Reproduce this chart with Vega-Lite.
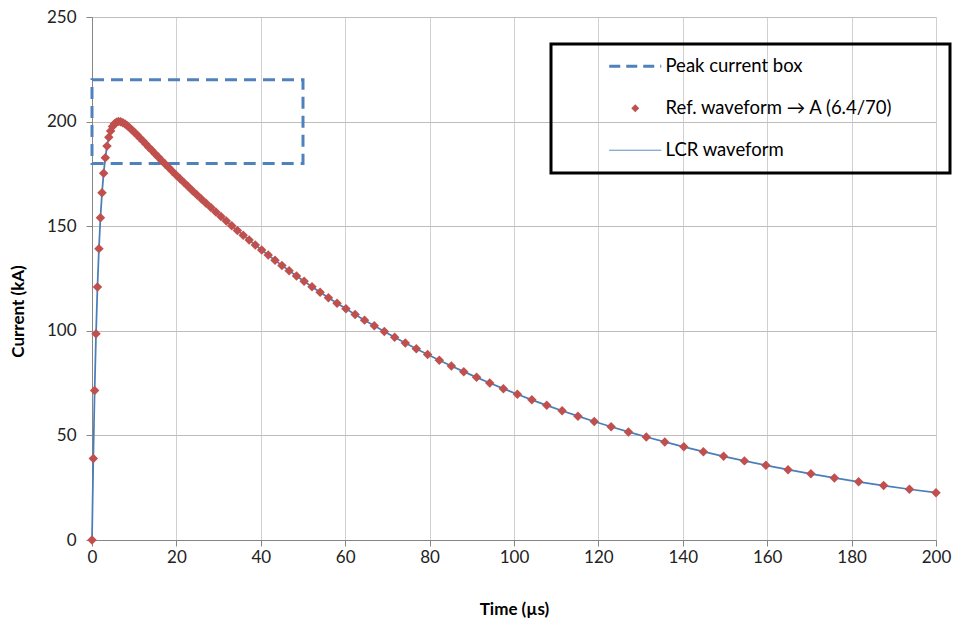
{
  "$schema": "https://vega.github.io/schema/vega-lite/v6.json",
  "width": 844,
  "height": 523,
  "autosize": {"type": "none"},
  "padding": {"left": 92, "top": 17, "right": 18, "bottom": 83},
  "background": "white",
  "config": {
    "view": {"stroke": null},
    "font": "Lato",
    "axis": {
      "labelFont": "Lato",
      "labelFontSize": 17,
      "labelColor": "#222222",
      "labelFlush": false,
      "titleFont": "Lato",
      "titleFontSize": 17,
      "titleFontWeight": "bold",
      "titleColor": "#000000",
      "domainColor": "#868686",
      "domainWidth": 1,
      "tickColor": "#868686",
      "tickSize": 6,
      "grid": true
    },
    "legend": {
      "orient": "none",
      "legendX": 459,
      "legendY": 27,
      "strokeColor": "#000000",
      "padding": 13,
      "symbolOffset": 62,
      "labelOffset": 21,
      "symbolSize": 100,
      "labelFont": "Lato",
      "labelFontSize": 18.5,
      "labelColor": "#000000",
      "labelLimit": 500,
      "rowPadding": 23,
      "titleOrient": "right",
      "titlePadding": 44
    }
  },
  "datasets": {
    "box": [{"t": 0, "t2": 50, "i": 180, "i2": 220}],
    "wave": [
      {"t": 0, "i": 0},
      {"t": 0.309, "i": 38.91},
      {"t": 0.628, "i": 71.51},
      {"t": 0.956, "i": 98.63},
      {"t": 1.295, "i": 120.99},
      {"t": 1.644, "i": 139.28},
      {"t": 2.004, "i": 154.09},
      {"t": 2.375, "i": 165.96},
      {"t": 2.758, "i": 175.35},
      {"t": 3.152, "i": 182.67},
      {"t": 3.559, "i": 188.28},
      {"t": 3.978, "i": 192.48},
      {"t": 4.41, "i": 195.52},
      {"t": 4.856, "i": 197.63},
      {"t": 5.315, "i": 198.98},
      {"t": 5.788, "i": 199.73},
      {"t": 6.276, "i": 200.0},
      {"t": 6.779, "i": 199.88},
      {"t": 7.298, "i": 199.47},
      {"t": 7.833, "i": 198.82},
      {"t": 8.384, "i": 197.98},
      {"t": 8.952, "i": 197.0},
      {"t": 9.538, "i": 195.9},
      {"t": 10.142, "i": 194.7},
      {"t": 10.765, "i": 193.43},
      {"t": 11.407, "i": 192.1},
      {"t": 12.069, "i": 190.71},
      {"t": 12.751, "i": 189.26},
      {"t": 13.454, "i": 187.78},
      {"t": 14.179, "i": 186.25},
      {"t": 14.927, "i": 184.68},
      {"t": 15.697, "i": 183.08},
      {"t": 16.492, "i": 181.44},
      {"t": 17.311, "i": 179.76},
      {"t": 18.155, "i": 178.05},
      {"t": 19.025, "i": 176.3},
      {"t": 19.922, "i": 174.52},
      {"t": 20.847, "i": 172.69},
      {"t": 21.801, "i": 170.83},
      {"t": 22.784, "i": 168.94},
      {"t": 23.797, "i": 167.0},
      {"t": 24.842, "i": 165.03},
      {"t": 25.919, "i": 163.03},
      {"t": 27.03, "i": 160.98},
      {"t": 28.174, "i": 158.91},
      {"t": 29.355, "i": 156.79},
      {"t": 30.571, "i": 154.64},
      {"t": 31.825, "i": 152.45},
      {"t": 33.118, "i": 150.23},
      {"t": 34.451, "i": 147.97},
      {"t": 35.826, "i": 145.68},
      {"t": 37.242, "i": 143.36},
      {"t": 38.703, "i": 141.0},
      {"t": 40.208, "i": 138.61},
      {"t": 41.76, "i": 136.19},
      {"t": 43.361, "i": 133.74},
      {"t": 45.01, "i": 131.26},
      {"t": 46.711, "i": 128.75},
      {"t": 48.464, "i": 126.21},
      {"t": 50.271, "i": 123.65},
      {"t": 52.134, "i": 121.06},
      {"t": 54.055, "i": 118.45},
      {"t": 56.035, "i": 115.81},
      {"t": 58.077, "i": 113.16},
      {"t": 60.181, "i": 110.49},
      {"t": 62.351, "i": 107.8},
      {"t": 64.587, "i": 105.1},
      {"t": 66.893, "i": 102.38},
      {"t": 69.27, "i": 99.65},
      {"t": 71.72, "i": 96.92},
      {"t": 74.247, "i": 94.18},
      {"t": 76.851, "i": 91.44},
      {"t": 79.536, "i": 88.69},
      {"t": 82.304, "i": 85.95},
      {"t": 85.157, "i": 83.21},
      {"t": 88.099, "i": 80.47},
      {"t": 91.132, "i": 77.75},
      {"t": 94.258, "i": 75.04},
      {"t": 97.481, "i": 72.34},
      {"t": 100.803, "i": 69.66},
      {"t": 104.229, "i": 67.01},
      {"t": 107.76, "i": 64.37},
      {"t": 111.4, "i": 61.77},
      {"t": 115.153, "i": 59.19},
      {"t": 119.022, "i": 56.65},
      {"t": 123.011, "i": 54.14},
      {"t": 127.122, "i": 51.67},
      {"t": 131.361, "i": 49.24},
      {"t": 135.731, "i": 46.86},
      {"t": 140.236, "i": 44.52},
      {"t": 144.881, "i": 42.23},
      {"t": 149.668, "i": 40.0},
      {"t": 154.604, "i": 37.82},
      {"t": 159.693, "i": 35.7},
      {"t": 164.938, "i": 33.63},
      {"t": 170.347, "i": 31.63},
      {"t": 175.922, "i": 29.69},
      {"t": 181.669, "i": 27.81},
      {"t": 187.595, "i": 26.0},
      {"t": 193.703, "i": 24.26},
      {"t": 200, "i": 22.59}
    ]
  },
  "layer": [
    {
      "data": {"name": "box"},
      "mark": {"type": "rect", "filled": false, "strokeWidth": 3, "strokeDash": [12, 7]},
      "encoding": {
        "x": {
          "field": "t", "type": "quantitative",
          "scale": {"domain": [0, 200], "nice": false, "zero": false},
          "axis": {
            "title": "Time (µs)",
            "values": [0, 20, 40, 60, 80, 100, 120, 140, 160, 180, 200],
            "gridColor": "#D0D0D0",
            "labelPadding": 3,
            "titleY": 69,
            "titleBaseline": "middle"
          }
        },
        "x2": {"field": "t2"},
        "y": {
          "field": "i", "type": "quantitative",
          "scale": {"domain": [0, 250], "nice": false},
          "axis": {
            "title": "Current (kA)",
            "values": [0, 50, 100, 150, 200, 250],
            "gridColor": "#BDBDBD",
            "labelPadding": 10,
            "titleX": -74,
            "titleY": 294,
            "titleAlign": "center",
            "titleBaseline": "middle"
          }
        },
        "y2": {"field": "i2"},
        "color": {
          "datum": "Peak current box",
          "type": "nominal",
          "scale": {
            "domain": ["Peak current box", "Ref. waveform → A (6.4/70)", "LCR waveform"],
            "range": ["#4F81BD", "#C0504D", "#4A7EBB"]
          },
          "legend": {
            "title": " ",
            "encode": {
              "legend": {"update": {"strokeWidth": {"value": 3}}},
              "symbols": {
                "update": {
                  "shape": {"signal": "datum.index === 1 ? 'M0,-0.8L0.8,0L0,0.8L-0.8,0Z' : 'M-5.2,0H5.2'"},
                  "fill": {"signal": "datum.index === 1 ? '#C0504D' : 'transparent'"},
                  "stroke": {"signal": "datum.index === 1 ? '#C0504D' : '#4A7EBB'"},
                  "strokeWidth": {"signal": "datum.index === 0 ? 3 : (datum.index === 2 ? 1 : 0)"},
                  "strokeDash": {"signal": "datum.index === 0 ? [11, 6] : [1, 0]"},
                  "opacity": {"value": 1}
                }
              }
            }
          }
        }
      }
    },
    {
      "data": {"name": "wave"},
      "mark": {"type": "line", "strokeWidth": 1.75},
      "encoding": {
        "x": {"field": "t", "type": "quantitative"},
        "y": {"field": "i", "type": "quantitative"},
        "color": {"datum": "LCR waveform", "type": "nominal"}
      }
    },
    {
      "data": {"name": "wave"},
      "mark": {"type": "point", "shape": "diamond", "filled": true, "size": 90, "opacity": 1},
      "encoding": {
        "x": {"field": "t", "type": "quantitative"},
        "y": {"field": "i", "type": "quantitative"},
        "color": {"datum": "Ref. waveform → A (6.4/70)", "type": "nominal"}
      }
    }
  ]
}
